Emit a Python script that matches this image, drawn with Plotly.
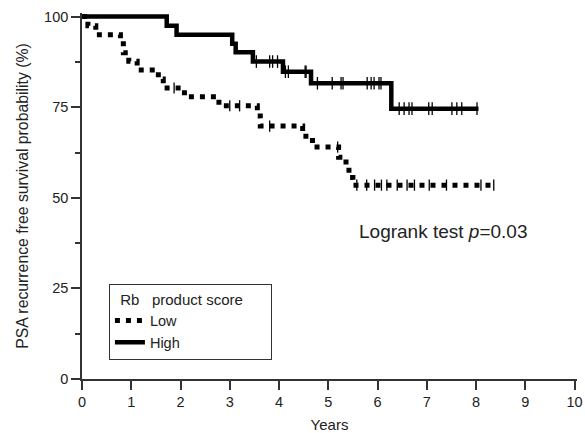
import plotly.graph_objects as go

# Kaplan-Meier step data (years, survival %)
high_t = [0, 1.72, 1.92, 3.05, 3.12, 3.47, 4.08, 4.65, 6.28, 8.05]
high_s = [100, 97.5, 95.0, 92.5, 90.2, 87.6, 84.8, 81.6, 74.6, 74.6]

low_t = [0, 0.12, 0.28, 0.78, 0.84, 0.95, 1.12, 1.55, 1.65, 2.08, 2.78,
         3.56, 3.62, 4.48, 4.68, 5.21, 5.36, 5.42, 5.50, 8.40]
low_s = [100, 97.5, 95.0, 92.5, 90.0, 87.7, 85.3, 82.8, 80.3, 77.9, 75.4,
         72.6, 69.8, 67.0, 64.0, 61.2, 58.4, 55.6, 53.5, 53.5]

# Censored observations
high_cens_t = [3.54, 3.81, 3.87, 3.97, 4.13, 4.19, 4.53, 4.55,
               4.78, 5.08, 5.26, 5.30, 5.79, 5.87, 5.93, 6.03, 6.07,
               6.44, 6.54, 6.64, 6.70, 7.04, 7.11, 7.51, 7.61, 7.71, 8.02]
high_cens_s = [87.6] * 4 + [84.8] * 4 + [81.6] * 9 + [74.6] * 10

low_cens_t = [1.87, 3.00, 3.20, 3.81, 5.19, 5.58, 5.78, 5.94, 6.08,
              6.19, 6.40, 6.60, 6.75, 7.05, 7.40, 8.10, 8.36]
low_cens_s = [80.3, 75.4, 75.4, 69.8, 64.0] + [53.5] * 12

FONT = "Arial, 'Liberation Sans', sans-serif"
INK = "#222222"
AXIS = "#333333"
NB = "&nbsp;"

fig = go.Figure()

# censor ticks first so the curves sit on top of them
fig.add_trace(go.Scatter(
    x=low_cens_t, y=low_cens_s, mode="markers", showlegend=False,
    marker=dict(symbol="line-ns", size=8, line=dict(width=1.3, color="black")),
))
fig.add_trace(go.Scatter(
    x=high_cens_t, y=high_cens_s, mode="markers", showlegend=False,
    marker=dict(symbol="line-ns", size=9, line=dict(width=1.3, color="black")),
))
fig.add_trace(go.Scatter(
    x=low_t, y=low_s, mode="lines", name="Low", line_shape="hv",
    line=dict(color="black", width=5, dash="5px,6px"),
))
fig.add_trace(go.Scatter(
    x=high_t, y=high_s, mode="lines", name="High", line_shape="hv",
    line=dict(color="black", width=4.5),
))

fig.add_annotation(
    x=5.58, y=40.6, xref="x", yref="y", xanchor="left", yanchor="middle",
    text="Logrank test <i>p</i>=0.03", showarrow=False,
    font=dict(family=FONT, size=19, color=INK),
)

axis_common = dict(
    showgrid=False, zeroline=False, showline=True, automargin=False,
    linecolor=AXIS, linewidth=1.6,
    ticks="outside", ticklen=9, tickwidth=1.5, tickcolor=AXIS,
    tickfont=dict(family=FONT, size=14.5, color=INK),
)

fig.update_layout(
    width=585, height=433,
    margin=dict(l=82, r=8, t=13, b=54),
    paper_bgcolor="white", plot_bgcolor="white",
    xaxis=dict(
        range=[0, 10.05], tick0=0, dtick=1,
        title=dict(text="Years", font=dict(family=FONT, size=15, color=INK), standoff=10),
        **axis_common,
    ),
    yaxis=dict(
        range=[0, 101], tick0=0, dtick=25,
        minor=dict(dtick=12.5, ticks="outside", ticklen=5, tickwidth=1.5, tickcolor=AXIS),
        title=dict(text="PSA recurrence free survival probability (%)",
                   font=dict(family=FONT, size=15.8, color=INK), standoff=12),
        **axis_common,
    ),
    legend=dict(
        x=0.054, y=0.26, xanchor="left", yanchor="top",
        bordercolor=AXIS, borderwidth=1.2, bgcolor="white",
        font=dict(family=FONT, size=14.5, color=INK),
        title=dict(text=NB * 2 + "Rb" + NB * 3 + "product score" + NB * 6,
                   font=dict(family=FONT, size=15, color=INK)),
        tracegroupgap=0, itemwidth=30,
    ),
    showlegend=True,
)

fig.write_html("out.html")
